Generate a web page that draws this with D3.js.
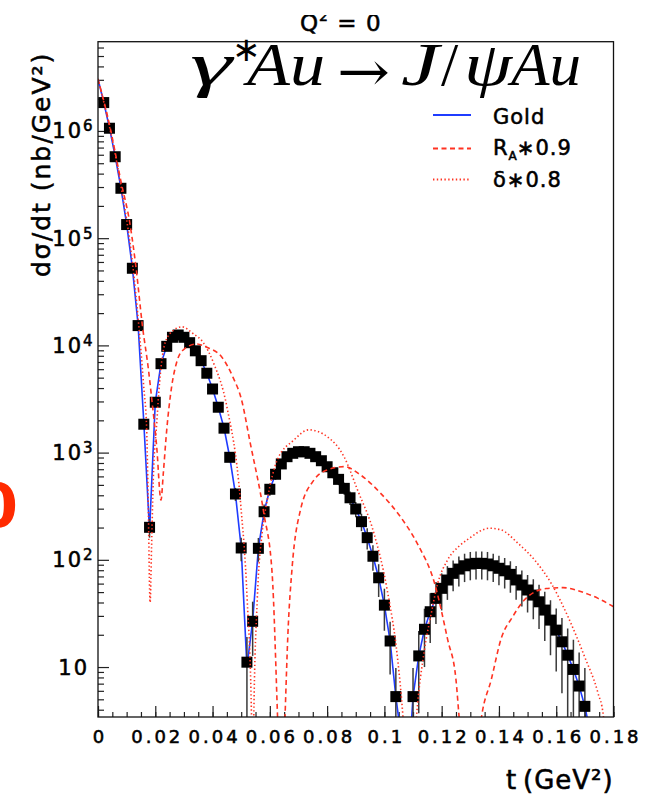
<!DOCTYPE html>
<html>
<head>
<meta charset="utf-8">
<script src="https://cdn.jsdelivr.net/npm/d3@7"></script>
<style>
  body { margin: 0; background: #fff; }
  svg { display: block; }
  text { font-family: "DejaVu Sans", sans-serif; fill: #000; }
  text.heavy { stroke: #000; stroke-width: 0.55px; }
</style>
</head>
<body>
<div id="chart"></div>
<script>
/* global d3 */

// simulated points (black squares) : t, dsigma/dt, error
var dataT = [0.002,0.004,0.006,0.008,0.010,0.012,0.014,0.016,0.018,0.020,0.022,0.024,0.026,0.028,0.030,0.032,0.034,0.036,0.038,0.040,
  0.042,0.044,0.046,0.048,0.050,0.052,0.054,0.056,0.058,0.060,0.062,0.064,0.066,0.068,0.070,0.072,0.074,0.076,0.078,0.080,
  0.082,0.084,0.086,0.088,0.090,0.092,0.094,0.096,0.098,0.100,0.102,0.104,
  0.110,0.112,0.114,0.116,0.118,0.120,0.122,0.124,0.126,0.128,0.130,0.132,0.134,0.136,0.138,0.140,0.142,0.144,0.146,0.148,
  0.150,0.152,0.154,0.156,0.158,0.160,0.162,0.164,0.166,0.168,0.170];
var dataV = [1.84e6,1.06e6,5.75e5,2.92e5,1.34e5,5.24e4,1.53e4,1840,201,2950,6750,9800,11900,12500,11900,10600,8900,7200,5500,3920,
  2650,1690,904,411,129,11.1,26.7,128,281,455,628,784,916,985,1019,1019,985,916,840,738,
  649,563,464,379,298,227,161,108,68,37.8,17.5,5.3,
  5.3,12.7,22.5,32.8,43.7,54.2,64.8,74.8,82,88,91.4,92.7,92.7,91.4,88,83.4,79,73.2,64.9,58.2,
  52.3,46.9,40.6,34,27.4,22.1,17.2,12.9,9.5,6.65,4.3];
var dataErr = [3800,2880,2120,1510,1030,640,350,120,40,150,230,280,305,315,305,290,265,240,210,175,
  145,115,84,57,32,8,14,32,47,60,70,78,85,88,89,89,88,85,81,76,
  71,66,60,55,48,42,36,29,23,16,9,4.5,
  4.5,9,12.5,16,18.5,20.5,22.5,24,25.5,26,27,27,27,27,26,25.5,25,24,22.5,21.5,
  20,19,18,16.5,14.5,13,11.5,10,8.5,7,5.5];

// Gold (blue solid)
var goldT = [0,0.002,0.004,0.006,0.008,0.010,0.012,0.014,0.016,0.018,0.020,0.022,0.024,0.026,0.028,0.030,0.032,0.034,0.036,0.038,0.040,
  0.042,0.044,0.046,0.048,0.050,0.052,0.054,0.056,0.058,0.060,0.062,0.064,0.066,0.068,0.070,0.072,0.074,0.076,0.078,0.080,
  0.082,0.084,0.086,0.088,0.090,0.092,0.094,0.096,0.098,0.100,0.102,0.104,0.1052,0.1072,0.1094,
  0.110,0.112,0.114,0.116,0.118,0.120,0.122,0.124,0.126,0.128,0.130,0.132,0.134,0.136,0.138,0.140,0.142,0.144,0.146,0.148,
  0.150,0.152,0.154,0.156,0.158,0.160,0.162,0.164,0.166,0.168,0.170,0.1712,0.1730];
var goldV = [3.05e6,1.85e6,1.07e6,5.8e5,2.95e5,1.35e5,5.3e4,1.55e4,1900,185,2950,6800,9800,11800,12400,12000,10700,8900,7200,5500,3950,
  2650,1700,905,410,130,10,27,128,282,455,628,784,916,985,1019,1019,985,916,840,738,
  649,563,464,379,298,227,161,108,68,37.8,17.5,5.3,3.0,0.4,3.0,
  5.3,12.7,22.5,32.8,43.7,54.2,64.8,74.8,82,88,91.4,92.7,92.7,91.4,88,83.4,79,73.2,64.9,58.2,
  52.3,46.9,40.6,34,27.4,22.1,17.2,12.9,9.5,6.65,4.3,3.0,0.5];

// R_A*0.9 (red dashed)
var radT = [0,0.004,0.008,0.0112,0.0133,0.0155,0.0176,0.0187,0.0205,0.0220,0.0228,0.0240,0.0257,0.0275,0.0300,0.0344,0.0380,
  0.0432,0.0472,0.0500,0.0531,0.0579,0.0608,0.0627,0.0640,0.0653,0.0663,0.0678,0.0707,0.0754,0.0800,0.0859,0.0917,0.0987,
  0.1057,0.1116,0.1174,0.1221,0.1250,0.1261,0.1300,0.1339,0.1373,0.1408,0.1448,0.1483,0.1524,0.1565,0.1624,0.1688,0.1746,0.1804];
var radV = [3.05e6,1.15e6,3.4e5,1.34e5,5.24e4,1.53e4,6000,3300,1130,361,641,1630,4100,7000,9200,10300,9600,
  7800,5000,3200,1250,272,75,3.4,0.3,3.4,20,86,292,555,689,740,618,417,
  250,140,62,18,7.6,3.4,0.3,3.4,7.6,18.5,29.5,40.6,50,54,55,50.4,43.7,36];

// delta*0.8 (red dotted)
var skinT = [0,0.004,0.008,0.012,0.014,0.016,0.0170,0.0175,0.0182,0.0187,0.0193,0.0205,0.0215,0.0234,0.0263,0.0293,0.0330,0.0369,
  0.0404,0.0450,0.0497,0.0521,0.0536,0.0540,0.0544,0.0556,0.0573,0.0591,0.0626,0.0684,0.0736,0.0800,0.0859,0.0906,0.0964,
  0.1010,0.1046,0.1065,0.1088,0.1112,0.1139,0.1162,0.1186,0.1221,0.1262,0.1291,0.1367,0.1408,0.1466,0.1524,0.1583,0.1641,
  0.1699,0.1746,0.1764,0.1785];
var skinV = [3.05e6,1.1e6,3.1e5,6.0e4,1.8e4,4000,1630,388,40,132,555,1870,4500,10500,13800,14900,13000,10500,
  6800,2680,361,42,3.4,0.3,3.4,42,177,361,853,1310,1630,1410,916,450,175,
  52,12,3.4,0.3,3.4,14,30,60,100,135,155,197,190,143,100,60,29.5,
  12.5,5.7,3.6,0.5];

var xTickValues = [0,0.02,0.04,0.06,0.08,0.10,0.12,0.14,0.16,0.18];
var xTickLabels = ['0','0.02','0.04','0.06','0.08','0.1','0.12','0.14','0.16','0.18'];
var yDecades = [1,2,3,4,5,6];

var legendLabels = ['Gold', 'R', '\u03b4\u22170.8'];

var W = 651, H = 796;
var BLUE = '#1f3cff', RED = '#ff3322';

var svg = d3.select('#chart').append('svg')
  .attr('xmlns', 'http://www.w3.org/2000/svg')
  .attr('width', W)
  .attr('height', H);

var x = d3.scaleLinear().domain([0, 0.18]).range([98, 613.5]);
var y = d3.scaleLog().domain([3.42, 6.8e6]).range([717, 41.7]);

var plotL = x.range()[0], plotR = x.range()[1],
    plotT = y.range()[1], plotB = y.range()[0];

svg.append('clipPath').attr('id', 'plot-clip')
  .append('rect')
  .attr('x', plotL).attr('y', plotT)
  .attr('width', plotR - plotL).attr('height', plotB - plotT);

// x axis ticks
var xMinor = d3.range(0, 0.1801, 0.005);
var gx = svg.append('g').attr('transform', 'translate(0,' + plotB + ')');
gx.append('g').call(d3.axisBottom(x).tickValues(xMinor).tickSize(-5).tickFormat(''));
gx.append('g').call(d3.axisBottom(x).tickValues(xTickValues).tickSize(-11).tickPadding(13)
  .tickFormat(function(d, i){ return xTickLabels[i]; }));
gx.selectAll('.domain').remove();
gx.selectAll('line').attr('stroke', '#222').attr('stroke-width', 1.2);
gx.selectAll('g').attr('font-family', null).attr('font-size', null);
gx.selectAll('text')
  .attr('class', 'heavy')
  .attr('dy', '0.72em')
  .attr('dx', 1.5)
  .style('font-size', '18px')
  .style('letter-spacing', '3px')
  .attr('fill', '#000');

// y axis ticks
var yMinor = [];
for (var d = 0; d <= 6; d++) {
  for (var m = 2; m <= 9; m++) {
    var v = m * Math.pow(10, d);
    if (v >= y.domain()[0] && v <= y.domain()[1]) yMinor.push(v);
  }
}
var gy = svg.append('g').attr('transform', 'translate(' + plotL + ',0)');
gy.append('g').call(d3.axisLeft(y).tickValues(yMinor).tickSize(-6).tickFormat(''));
gy.append('g').call(d3.axisLeft(y).tickValues(yDecades.map(function(e){ return Math.pow(10, e); }))
  .tickSize(-11).tickFormat(''));
gy.selectAll('.domain').remove();
gy.selectAll('line').attr('stroke', '#222').attr('stroke-width', 1.2);

// y tick labels 10^n
yDecades.forEach(function(e){
  var yy = y(Math.pow(10, e));
  svg.append('text')
    .attr('class', 'heavy')
    .attr('x', e === 1 ? 89 : 83).attr('y', yy + 7.5)
    .attr('text-anchor', 'end')
    .style('font-size', '21px').style('letter-spacing', '2px')
    .text('10');
  if (e > 1) {
    svg.append('text')
      .attr('class', 'heavy')
      .attr('x', 83).attr('y', yy + 0.5)
      .style('font-size', '15px')
      .text(String(e));
  }
});

var plot = svg.append('g').attr('clip-path', 'url(#plot-clip)');

function zip(a, b) { return a.map(function(t, i){ return [t, b[i]]; }); }

var line = d3.line()
  .x(function(p){ return x(p[0]); })
  .y(function(p){ return y(p[1]); });

// Gold curve
plot.append('path')
  .datum(zip(goldT, goldV))
  .attr('d', line)
  .attr('fill', 'none')
  .attr('stroke', BLUE)
  .attr('stroke-width', 1.6);

// error bars + markers
var pts = dataT.map(function(t, i){ return {t: t, v: dataV[i], e: dataErr[i]}; });

plot.selectAll('line.err').data(pts).enter().append('line')
  .attr('class', 'err')
  .attr('x1', function(p){ return x(p.t); })
  .attr('x2', function(p){ return x(p.t); })
  .attr('y1', function(p){ return y(p.v + p.e); })
  .attr('y2', function(p){ return y(Math.max(p.v - p.e, 0.01)); })
  .attr('stroke', '#3a3a3a')
  .attr('stroke-width', 1.5);

plot.selectAll('rect.pt').data(pts).enter().append('rect')
  .attr('class', 'pt')
  .attr('x', function(p){ return x(p.t) - 5.5; })
  .attr('y', function(p){ return y(p.v) - 5.5; })
  .attr('width', 11)
  .attr('height', 11)
  .attr('fill', '#000');

// R_A*0.9 and delta*0.8
var smooth = d3.line()
  .x(function(p){ return x(p[0]); })
  .y(function(p){ return y(p[1]); })
  .curve(d3.curveMonotoneX);

plot.append('path')
  .datum(zip(radT, radV))
  .attr('d', smooth)
  .attr('fill', 'none')
  .attr('stroke', RED)
  .attr('stroke-width', 1.6)
  .attr('stroke-dasharray', '5,3.5');

plot.append('path')
  .datum(zip(skinT, skinV))
  .attr('d', smooth)
  .attr('fill', 'none')
  .attr('stroke', RED)
  .attr('stroke-width', 1.6)
  .attr('stroke-dasharray', '1.4,2.4');

// frame
svg.append('rect')
  .attr('x', plotL).attr('y', plotT)
  .attr('width', plotR - plotL).attr('height', plotB - plotT)
  .attr('fill', 'none')
  .attr('stroke', '#111')
  .attr('stroke-width', 1.3);

// legend
var legend = svg.append('g');
var legendStyles = [
  {color: BLUE, dash: null, ly: 115, ty: 124},
  {color: RED, dash: '5,3.5', ly: 148.5, ty: 155},
  {color: RED, dash: '1.4,2.4', ly: 179.5, ty: 187}
];
legendStyles.forEach(function(s, i){
  legend.append('line')
    .attr('x1', 433).attr('x2', 471)
    .attr('y1', s.ly).attr('y2', s.ly)
    .attr('stroke', s.color)
    .attr('stroke-width', 1.8)
    .attr('stroke-dasharray', s.dash);
  var t = legend.append('text')
    .attr('class', 'heavy')
    .attr('x', 493).attr('y', s.ty)
    .style('font-size', '21px')
    .style('letter-spacing', '1px');
  if (i === 1) {
    t.append('tspan').text('R');
    t.append('tspan').attr('dy', 5).style('font-size', '12px').style('letter-spacing', '0px').text('A');
    t.append('tspan').attr('dy', -5).text('\u22170.9');
  } else {
    t.text(legendLabels[i]);
  }
});

// title
var serif = '"Liberation Serif", "DejaVu Serif", serif';
function titlePart(str, px, py, len, opts) {
  opts = opts || {};
  var t = svg.append('text')
    .attr('x', px).attr('y', py)
    .style('font-family', opts.family || serif)
    .style('font-size', (opts.size || 62) + 'px')
    .style('font-style', opts.upright ? 'normal' : 'italic')
    .text(str);
  if (len) t.attr('textLength', len).attr('lengthAdjust', 'spacingAndGlyphs');
  return t;
}
titlePart('\u03b3', 190, 85, 42);
titlePart('\u2217', 232, 61, null, {family: '"DejaVu Sans", sans-serif', upright: true, size: 34});
titlePart('Au', 247, 85, 78);
titlePart('\u2192', 337, 91, 53, {family: '"DejaVu Serif", serif', upright: true, size: 56});
titlePart('J', 401, 85, 38);
titlePart('/', 441, 85, null, {upright: true});
titlePart('\u03c8', 464, 85, 48);
titlePart('Au', 511, 85, 70);

// Q^2 = 0 (top cut off in the original)
var q = svg.append('text').attr('class', 'heavy').attr('x', 300).attr('y', 31).style('font-size', '23px').style('letter-spacing', '1px');
q.append('tspan').text('Q');
q.append('tspan').attr('dy', -10).style('font-size', '14px').text('2');
q.append('tspan').attr('dy', 10).text(' = 0');
svg.append('rect').attr('x', 290).attr('y', 0).attr('width', 100).attr('height', 15).attr('fill', '#fff');

// axis titles
svg.append('text')
  .attr('class', 'heavy')
  .attr('transform', 'translate(50,277) rotate(-90)')
  .style('font-size', '25px')
  .style('letter-spacing', '2px')
  .text('d\u03c3/dt  (nb/GeV\u00b2)');

var xt = svg.append('text').attr('class', 'heavy').attr('y', 789).style('font-size', '26px').style('letter-spacing', '1px');
xt.append('tspan').attr('x', 506).text('t');
xt.append('tspan').attr('x', 523).text('(GeV\u00b2)');

// stray red label from the neighbouring panel
svg.append('text')
  .attr('x', 18).attr('y', 527)
  .attr('text-anchor', 'end')
  .style('font-size', '60px')
  .style('font-weight', 'bold')
  .style('fill', '#ff2a00')
  .text('0');
</script>
</body>
</html>
